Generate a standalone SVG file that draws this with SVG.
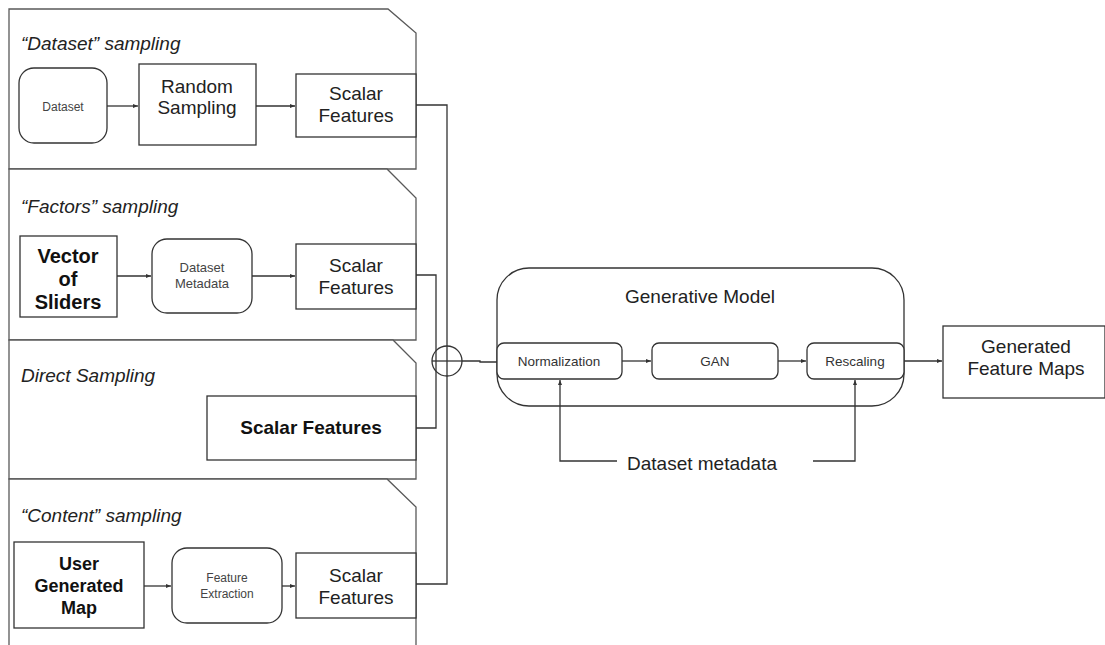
<svg xmlns="http://www.w3.org/2000/svg" width="1105" height="645" viewBox="0 0 1105 645">
  <style>
    .panel { fill: #fff; stroke: #595959; stroke-width: 1.3; }
    .box { fill: #fff; stroke: #333; stroke-width: 1.3; }
    .wire { fill: none; stroke: #333; stroke-width: 1.3; }
    .t { font-family: "Liberation Sans", Arial, sans-serif; fill: #222; text-anchor: middle; }
    .big { font-size: 19px; }
    .small { font-size: 12px; fill: #444; }
    .meta { font-size: 13px; fill: #444; }
    .mid { font-size: 13.5px; fill: #333; }
    .bold { font-size: 18px; font-weight: bold; fill: #111; }
    .bold20 { font-size: 20px; font-weight: bold; fill: #111; }
    .bold19 { font-size: 19px; font-weight: bold; fill: #111; }
    .title { font-family: "Liberation Sans", Arial, sans-serif; font-size: 19px; font-style: italic; fill: #222; }
  </style>
  <defs>
    <marker id="arr" viewBox="0 0 10 10" refX="10" refY="5" markerWidth="5" markerHeight="5" orient="auto" markerUnits="userSpaceOnUse">
      <path d="M0,1 L10,5 L0,9 Z" fill="#333"/>
    </marker>
  </defs>
  <rect width="1105" height="645" fill="#fff"/>

  <!-- sampling panels -->
  <g id="panel-dataset">
    <path class="panel" d="M9,9 H388 L416,33 V169 H9 Z"/>
    <text class="title" x="21" y="50">“Dataset” sampling</text>
  </g>
  <g id="panel-factors">
    <path class="panel" d="M9,169 H387 L416,198 V340 H9 Z"/>
    <text class="title" x="21" y="213">“Factors” sampling</text>
  </g>
  <g id="panel-direct">
    <path class="panel" d="M9,340 H393 L416,363 V479 H9 Z"/>
    <text class="title" x="21" y="382">Direct Sampling</text>
  </g>
  <g id="panel-content">
    <path class="panel" d="M9,650 V479 H387 L416,507 V650"/>
    <text class="title" x="21" y="522">“Content” sampling</text>
  </g>

  <!-- dataset sampling nodes -->
  <g id="dataset">
    <rect class="box" x="19" y="68" width="88" height="75" rx="15"/>
    <text class="t small" x="63" y="111">Dataset</text>
  </g>
  <g id="random-sampling">
    <rect class="box" x="139" y="64" width="117" height="81"/>
    <text class="t big" x="197" y="93">Random</text>
    <text class="t big" x="197" y="114">Sampling</text>
  </g>
  <g id="scalar-dataset">
    <rect class="box" x="296" y="74" width="120" height="63"/>
    <text class="t big" x="356" y="100">Scalar</text>
    <text class="t big" x="356" y="122">Features</text>
  </g>

  <!-- factors sampling nodes -->
  <g id="vector-sliders">
    <rect class="box" x="20" y="236" width="97" height="81"/>
    <text class="t bold20" x="68" y="263">Vector</text>
    <text class="t bold20" x="68" y="286">of</text>
    <text class="t bold20" x="68" y="309">Sliders</text>
  </g>
  <g id="dataset-metadata">
    <rect class="box" x="152" y="239" width="100" height="74" rx="15"/>
    <text class="t meta" x="202" y="272">Dataset</text>
    <text class="t meta" x="202" y="288">Metadata</text>
  </g>
  <g id="scalar-factors">
    <rect class="box" x="296" y="244" width="120" height="65"/>
    <text class="t big" x="356" y="272">Scalar</text>
    <text class="t big" x="356" y="294">Features</text>
  </g>

  <!-- direct sampling node -->
  <g id="scalar-direct">
    <rect class="box" x="207" y="396" width="209" height="64"/>
    <text class="t bold19" x="311" y="434">Scalar Features</text>
  </g>

  <!-- content sampling nodes -->
  <g id="user-map">
    <rect class="box" x="14" y="542" width="130" height="86"/>
    <text class="t bold" x="79" y="570">User</text>
    <text class="t bold" x="79" y="592">Generated</text>
    <text class="t bold" x="79" y="614">Map</text>
  </g>
  <g id="feature-extraction">
    <rect class="box" x="172" y="548" width="110" height="75" rx="15"/>
    <text class="t small" x="227" y="582">Feature</text>
    <text class="t small" x="227" y="598">Extraction</text>
  </g>
  <g id="scalar-content">
    <rect class="box" x="296" y="553" width="120" height="65"/>
    <text class="t big" x="356" y="582">Scalar</text>
    <text class="t big" x="356" y="604">Features</text>
  </g>

  <!-- generative model -->
  <g id="generative-model">
    <rect class="box" x="497" y="268" width="407" height="138" rx="32"/>
    <text class="t big" x="700" y="303">Generative Model</text>
  </g>
  <g id="normalization">
    <rect class="box" x="497" y="343" width="125" height="36" rx="7"/>
    <text class="t mid" x="559" y="366">Normalization</text>
  </g>
  <g id="gan">
    <rect class="box" x="652" y="343" width="126" height="36" rx="7"/>
    <text class="t mid" x="715" y="366">GAN</text>
  </g>
  <g id="rescaling">
    <rect class="box" x="807" y="343" width="97" height="36" rx="7"/>
    <text class="t mid" x="855" y="366">Rescaling</text>
  </g>
  <g id="generated-maps">
    <rect class="box" x="943" y="326" width="162" height="72"/>
    <text class="t big" x="1026" y="353">Generated</text>
    <text class="t big" x="1026" y="375">Feature Maps</text>
  </g>
  <g id="metadata-label">
    <text class="t big" x="702" y="470">Dataset metadata</text>
  </g>

  <!-- junction -->
  <g id="sum-junction">
    <circle class="wire" cx="447" cy="361" r="15"/>
  </g>

  <g id="connectors">
    <!-- inside panels -->
    <line class="wire" x1="107" y1="106" x2="138" y2="106" marker-end="url(#arr)"/>
    <line class="wire" x1="256" y1="106" x2="295" y2="106" marker-end="url(#arr)"/>
    <line class="wire" x1="117" y1="276" x2="151" y2="276" marker-end="url(#arr)"/>
    <line class="wire" x1="252" y1="276" x2="295" y2="276" marker-end="url(#arr)"/>
    <line class="wire" x1="144" y1="586" x2="171" y2="586" marker-end="url(#arr)"/>
    <line class="wire" x1="282" y1="586" x2="295" y2="586" marker-end="url(#arr)"/>
    <!-- scalar features into the junction -->
    <path class="wire" d="M416,105 H447 V584 H416"/>
    <path class="wire" d="M416,275 H436 V428 H416"/>
    <line class="wire" x1="432" y1="361" x2="462" y2="361"/>
    <path class="wire" d="M462,361 H480 V362 H497"/>
    <!-- model chain -->
    <line class="wire" x1="622" y1="361" x2="651" y2="361" marker-end="url(#arr)"/>
    <line class="wire" x1="778" y1="361" x2="806" y2="361" marker-end="url(#arr)"/>
    <line class="wire" x1="904" y1="361" x2="942" y2="361" marker-end="url(#arr)"/>
    <!-- dataset metadata feeds -->
    <path class="wire" d="M617,461 H560 V380" marker-end="url(#arr)"/>
    <path class="wire" d="M813,461 H855 V380" marker-end="url(#arr)"/>
  </g>
</svg>
